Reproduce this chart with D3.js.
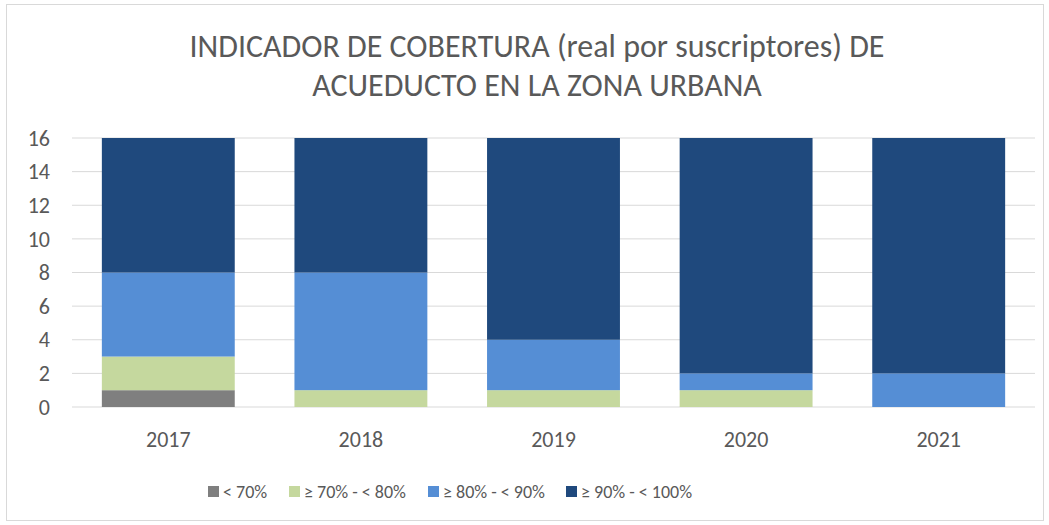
<!DOCTYPE html>
<html>
<head>
<meta charset="utf-8">
<script src="https://cdn.jsdelivr.net/npm/d3@7"></script>
<style>
  body { margin: 0; background: #fff; }
  svg { display: block; font-family: Carlito, Calibri, "Liberation Sans Narrow", "Open Sans", sans-serif; }
</style>
</head>
<body>
<div id="chart"></div>
<script>
// --- DATA ---
var years = ["2017", "2018", "2019", "2020", "2021"];
var seriesNames = ["< 70%", "≥ 70% - < 80%", "≥ 80% - < 90%", "≥ 90% - < 100%"];
var seriesColors = ["#7f7f7f", "#c5d89e", "#558ed5", "#1f497d"];
var below70 = [1, 0, 0, 0, 0];
var from70to80 = [2, 1, 1, 1, 0];
var from80to90 = [5, 7, 3, 1, 2];
var from90to100 = [8, 8, 12, 14, 14];
var yTicks = [0, 2, 4, 6, 8, 10, 12, 14, 16];
var titleLines = ["INDICADOR DE COBERTURA (real por suscriptores) DE", "ACUEDUCTO EN LA ZONA URBANA"];

// --- SETUP ---
var width = 1049, height = 525;
var svg = d3.select("#chart").append("svg").attr("width", width).attr("height", height);

// chart border
svg.append("rect").attr("x", 6.5).attr("y", 4.5).attr("width", width - 12).attr("height", height - 9)
  .attr("fill", "#fff").attr("stroke", "#d9d9d9");

var plot = { left: 72, right: 1035, top: 138, bottom: 407 };

var x = d3.scaleBand().domain(years).range([plot.left, plot.right]).paddingInner(0.31).paddingOuter(0.155);
var y = d3.scaleLinear().domain([0, 16]).range([plot.bottom, plot.top]);

// gridlines
svg.append("g").selectAll("line").data(yTicks).join("line")
  .attr("x1", plot.left).attr("x2", plot.right)
  .attr("y1", d => y(d)).attr("y2", d => y(d))
  .attr("stroke", "#d9d9d9").attr("stroke-width", 1);

// y tick labels
svg.append("g").selectAll("text").data(yTicks).join("text")
  .attr("x", 50).attr("y", d => y(d)).attr("dy", "0.35em")
  .attr("text-anchor", "end").attr("fill", "#595959").attr("font-size", 22)
  .text(d => d);

// stacked bars
var rows = years.map(function(yr, i) {
  return { year: yr, s0: below70[i], s1: from70to80[i], s2: from80to90[i], s3: from90to100[i] };
});
var stack = d3.stack().keys(["s0", "s1", "s2", "s3"]);
var layers = stack(rows);

svg.append("g").selectAll("g").data(layers).join("g")
  .attr("fill", (d, i) => seriesColors[i])
  .selectAll("rect").data(d => d).join("rect")
  .attr("x", d => x(d.data.year))
  .attr("width", x.bandwidth())
  .attr("y", d => y(d[1]))
  .attr("height", d => y(d[0]) - y(d[1]));

// x labels
svg.append("g").selectAll("text").data(years).join("text")
  .attr("x", d => x(d) + x.bandwidth() / 2).attr("y", 447)
  .attr("text-anchor", "middle").attr("fill", "#595959").attr("font-size", 22)
  .text(d => d);

// title
svg.append("g").selectAll("text").data(titleLines).join("text")
  .attr("x", 537).attr("y", (d, i) => 57 + i * 39)
  .attr("text-anchor", "middle").attr("fill", "#595959").attr("font-size", 32)
  .text(d => d);

// legend
var legendX = [208, 289, 428, 566];
var legend = svg.append("g").selectAll("g").data(seriesNames).join("g")
  .attr("transform", (d, i) => "translate(" + legendX[i] + ",486)");
legend.append("rect").attr("width", 11).attr("height", 11).attr("fill", (d, i) => seriesColors[i]);
legend.append("text").attr("x", 15).attr("y", 6).attr("dy", "0.35em")
  .attr("fill", "#595959").attr("font-size", 18).text(d => d);
</script>
</body>
</html>
